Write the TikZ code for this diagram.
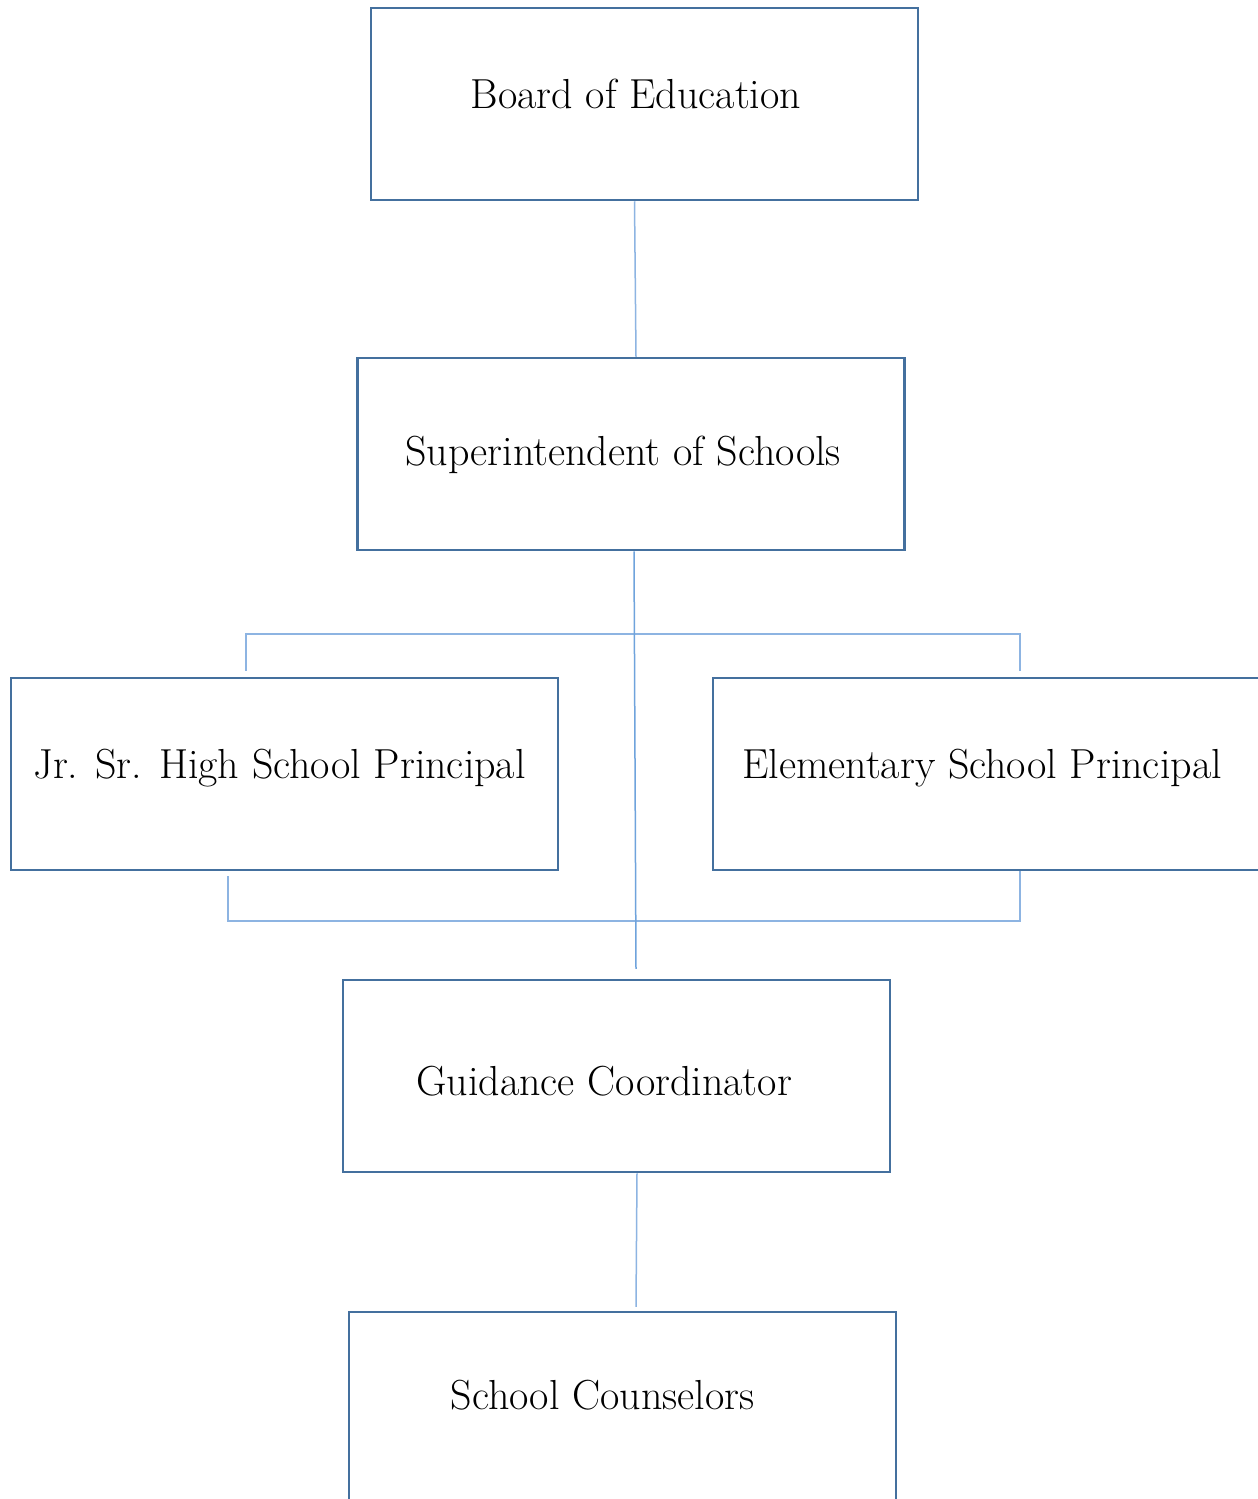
\documentclass[tikz,border=0pt]{standalone}
\usepackage{tikz}

\definecolor{boxblue}{HTML}{44709E}
\definecolor{linkblue}{HTML}{8DB4E2}
\definecolor{trunkblue}{HTML}{6FA3DC}

\tikzset{
  orgbox/.style={draw=boxblue,line width=1.25pt,minimum width=273.5pt,
    minimum height=96pt,inner sep=0pt},
  txt/.style={font=\fontsize{21}{25}\selectfont,inner sep=0pt},
  link/.style={draw=linkblue,line width=0.75pt},
  trunk/.style={draw=trunkblue,line width=0.75pt}
}

\begin{document}
\begin{tikzpicture}[x=0.5pt,y=-0.5pt]
 \useasboundingbox (0,0) rectangle (1258,1499);
 \fill[white] (0,0) rectangle (1258,1499);
 \clip (0,0) rectangle (1258,1499);
 % boxes
 \node[orgbox,label={[txt,xshift=-4.25pt,yshift=5pt]center:Board of Education}]
   (board) at (644.5,104) {};
 \node[orgbox,label={[txt,xshift=-4pt,yshift=-0.5pt]center:Superintendent of Schools}]
   (super) at (631,454) {};
 \node[orgbox,label={[txt,xshift=-2.5pt,yshift=3pt]center:Jr. Sr. High School Principal}]
   (jrsr) at (284.5,774) {};
 \node[orgbox,label={[txt,xshift=-2.25pt,yshift=3pt]center:Elementary School Principal}]
   (elem) at (986.5,774) {};
 \node[orgbox,label={[txt,xshift=-6.25pt,yshift=-2.5pt]center:Guidance Coordinator}]
   (guide) at (616.5,1076) {};
 \node[orgbox,label={[txt,xshift=-10pt,yshift=6.5pt]center:School Counselors}]
   (couns) at (622.5,1408) {};
 % connectors
 \coordinate (upper) at (635,634);
 \coordinate (lower) at (635,921);
 \draw[link] ([xshift=-5pt]board.south) -- ([xshift=2.5pt]super.north);
 \draw[link] ([xshift=-19.25pt,yshift=3pt]jrsr.north) |- (upper)
   -| ([xshift=16.75pt,yshift=3pt]elem.north);
 \draw[link] ([xshift=-28.25pt,yshift=-2.5pt]jrsr.south) |- (lower)
   -| ([xshift=16.75pt]elem.south);
 \draw[trunk] ([xshift=1.5pt]super.south) -- ([xshift=9.75pt,yshift=5pt]guide.north);
 \draw[link] ([xshift=10.25pt]guide.south) -- ([xshift=6.75pt,yshift=2pt]couns.north);
\end{tikzpicture}
\end{document}
